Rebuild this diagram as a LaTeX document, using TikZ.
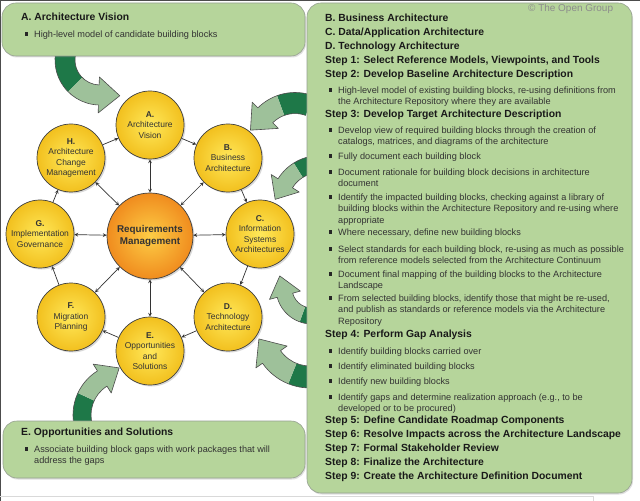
\documentclass[tikz,border=0pt]{standalone}
\usepackage{fontspec}
\setmainfont{Liberation Sans}
\usetikzlibrary{calc,shadows}

\definecolor{boxgreen}{RGB}{182,213,155}
\definecolor{boxedge}{RGB}{150,160,145}
\definecolor{arrowlight}{RGB}{158,193,154}
\definecolor{arrowdark}{RGB}{30,120,72}
\definecolor{phasein}{RGB}{255,232,90}
\definecolor{phaseout}{RGB}{242,192,30}
\definecolor{hubin}{RGB}{253,205,70}
\definecolor{hubout}{RGB}{240,140,30}

\tikzset{
  panel/.style={draw=boxedge, fill=boxgreen, rounded corners=14bp, line width=0.6bp,
    drop shadow={shadow xshift=1bp, shadow yshift=-1.5bp, opacity=0.25}},
  phase/.style={circle, draw=black!75, line width=0.7bp, minimum size=68bp, inner sep=0pt,
    align=center, text=black!80, font=\fontsize{8.5}{10.5}\selectfont,
    inner color=phasein, outer color=phaseout,
    drop shadow={shadow xshift=1.5bp, shadow yshift=-1.5bp, opacity=0.3}},
  hub/.style={phase, minimum size=86bp, inner color=hubin, outer color=hubout,
    font=\bfseries\fontsize{9.9}{12}\selectfont},
  head/.style={anchor=north west, inner sep=0pt, text=black!90,
    font=\bfseries\fontsize{10.4}{14}\selectfont},
  item/.style={anchor=north west, inner sep=0pt, align=left, text=black!80,
    font=\fontsize{9.2}{11.5}\selectfont},
  flow/.style={->, draw=black!80, line width=0.7bp},
  link/.style={<->, draw=black!80, line width=0.7bp},
  arrowedge/.style={draw=black!70, line width=0.6bp}
}

% bullet item: name, x, y, text
\newcommand{\itm}[4]{%
  \node[item] (#1) at (#2,#3) {#4};
  \fill[black!85] ($(#1.north west)+(-9.5,1.8)$) rectangle ++(3.4,3.4);}

% curved band arrow: cx, cy, radius, width, start angle, split angle, end angle, turn (+/-), head length
\newcommand{\fatarrow}[9]{%
  \begin{scope}[shift={(#1,#2)}]
    \pgfmathsetmacro\rIn{#3-#4/2}
    \pgfmathsetmacro\rOut{#3+#4/2}
    \pgfmathsetmacro\rHin{#3-#4/2-8}
    \pgfmathsetmacro\rHout{#3+#4/2+8}
    \pgfmathsetmacro\tipx{#3*cos(#7)+#9*cos(#7 #8 90)}
    \pgfmathsetmacro\tipy{#3*sin(#7)+#9*sin(#7 #8 90)}
    \fill[arrowdark] (#5:\rIn) arc[start angle=#5, end angle=#6, radius=\rIn]
      -- (#6:\rOut) arc[start angle=#6, end angle=#5, radius=\rOut] -- cycle;
    \fill[arrowlight] (#6:\rIn) arc[start angle=#6, end angle=#7, radius=\rIn]
      -- (#7:\rHin) -- (\tipx,\tipy) -- (#7:\rHout) -- (#7:\rOut)
      arc[start angle=#7, end angle=#6, radius=\rOut] -- cycle;
    \draw[arrowedge] (#5:\rIn) arc[start angle=#5, end angle=#7, radius=\rIn]
      -- (#7:\rHin) -- (\tipx,\tipy) -- (#7:\rHout) -- (#7:\rOut)
      arc[start angle=#7, end angle=#5, radius=\rOut];
  \end{scope}}

\begin{document}
\begin{tikzpicture}[x=1bp, y=-1bp, >=stealth, line join=round]
  \useasboundingbox (0,0) rectangle (640,501);
  \fill[white] (0,0) rectangle (640,501);

  % Curved arrows (drawn first, panels cover their tails)
  \fatarrow{100}{60}{35}{20}{200}{135}{92}{-}{21}
  \fatarrow{295}{145}{42}{21}{290}{250}{225}{-}{21}
  \fatarrow{320}{205}{41}{17}{280}{238}{212}{-}{19}
  \fatarrow{312}{288}{28}{16}{80}{110}{165}{+}{20}
  \fatarrow{310}{330}{47}{22}{70}{112}{145}{+}{22}
  \fatarrow{125}{415}{43}{18}{160}{205}{238}{+}{20}

  % Panels
  \draw[panel] (2,3) rectangle (305,56);
  \draw[panel] (307,3) rectangle (632,493);
  \draw[panel] (3,421) rectangle (305,478);

  % Frame
  \draw[black!70, line width=1.5bp] (0.5,501) -- (0.5,0.5) -- (640,0.5);
  \draw[black!15, line width=0.8bp] (0,496.5) -- (593,496.5) -- (593,501);

  % Phases
  \node[hub] (req) at (150,236) {Requirements\\Management};
  \node[phase] (A) at (150,125) {\textbf{A.}\\Architecture\\Vision};
  \node[phase] (B) at (228,158) {\textbf{B.}\\Business\\Architecture};
  \node[phase] (C) at (260,234) {\textbf{C.}\\Information\\Systems\\Architectures};
  \node[phase] (D) at (228,317) {\textbf{D.}\\Technology\\Architecture};
  \node[phase] (E) at (150,351) {\textbf{E.}\\Opportunities\\and\\Solutions};
  \node[phase] (F) at (71,317) {\textbf{F.}\\Migration\\Planning};
  \node[phase] (G) at (40,234) {\textbf{G.}\\Implementation\\Governance};
  \node[phase] (H) at (71,158) {\textbf{H.}\\Architecture\\Change\\Management};

  % Cycle
  \draw[flow] (A) -- (B);
  \draw[flow] (B) -- (C);
  \draw[flow] (C) -- (D);
  \draw[flow] (D) -- (E);
  \draw[flow] (E) -- (F);
  \draw[flow] (F) -- (G);
  \draw[flow] (G) -- (H);
  \draw[flow] (H) -- (A);
  \foreach \p in {A,B,C,D,E,F,G,H}
    \draw[link] (req) -- (\p);

  % Panel A
  \node[head] (visionhead) at (21,13.1) {A. Architecture Vision};
  \itm{visionitem}{34}{30.6}{High-level model of candidate building blocks}

  % Panel E
  \node[head] (opphead) at (21,428.1) {E. Opportunities and Solutions};
  \itm{oppitem}{34}{445.6}{Associate building block gaps with work packages that will\\address the gaps}

  % Right panel
  \node[anchor=north west, inner sep=0pt, text=black!45, font=\fontsize{10}{12}\selectfont]
    (copy) at (528,4.5) {\textcopyright{} The Open Group};
  \node[head] (bhead) at (325,14.1) {B. Business Architecture};
  \node[head] (chead) at (325,28.1) {C. Data/Application Architecture};
  \node[head] (dhead) at (325,42.1) {D. Technology Architecture};
  \node[head] (step1) at (325,56.1) {Step 1: Select Reference Models, Viewpoints, and Tools};
  \node[head] (step2) at (325,70.1) {Step 2: Develop Baseline Architecture Description};
  \itm{base1}{338}{86.6}{High-level model of existing building blocks, re-using definitions from\\the Architecture Repository where they are available}
  \node[head] (step3) at (325,110.1) {Step 3: Develop Target Architecture Description};
  \itm{tgt1}{338}{126.6}{Develop view of required building blocks through the creation of\\catalogs, matrices, and diagrams of the architecture}
  \itm{tgt2}{338}{152.6}{Fully document each building block}
  \itm{tgt3}{338}{168.6}{Document rationale for building block decisions in architecture\\document}
  \itm{tgt4}{338}{193.6}{Identify the impacted building blocks, checking against a library of\\building blocks within the Architecture Repository and re-using where\\appropriate}
  \itm{tgt5}{338}{228.6}{Where necessary, define new building blocks}
  \itm{tgt6}{338}{245.6}{Select standards for each building block, re-using as much as possible\\from reference models selected from the Architecture Continuum}
  \itm{tgt7}{338}{270.6}{Document final mapping of the building blocks to the Architecture\\Landscape}
  \itm{tgt8}{338}{294.6}{From selected building blocks, identify those that might be re-used,\\and publish as standards or reference models via the Architecture\\Repository}
  \node[head] (step4) at (325,330.1) {Step 4: Perform Gap Analysis};
  \itm{gap1}{338}{347.6}{Identify building blocks carried over}
  \itm{gap2}{338}{362.6}{Identify eliminated building blocks}
  \itm{gap3}{338}{377.6}{Identify new building blocks}
  \itm{gap4}{338}{393.6}{Identify gaps and determine realization approach (e.g., to be\\developed or to be procured)}
  \node[head] (step5) at (325,416.1) {Step 5: Define Candidate Roadmap Components};
  \node[head] (step6) at (325,430.1) {Step 6: Resolve Impacts across the Architecture Landscape};
  \node[head] (step7) at (325,444.1) {Step 7: Formal Stakeholder Review};
  \node[head] (step8) at (325,458.1) {Step 8: Finalize the Architecture};
  \node[head] (step9) at (325,472.1) {Step 9: Create the Architecture Definition Document};
\end{tikzpicture}
\end{document}
